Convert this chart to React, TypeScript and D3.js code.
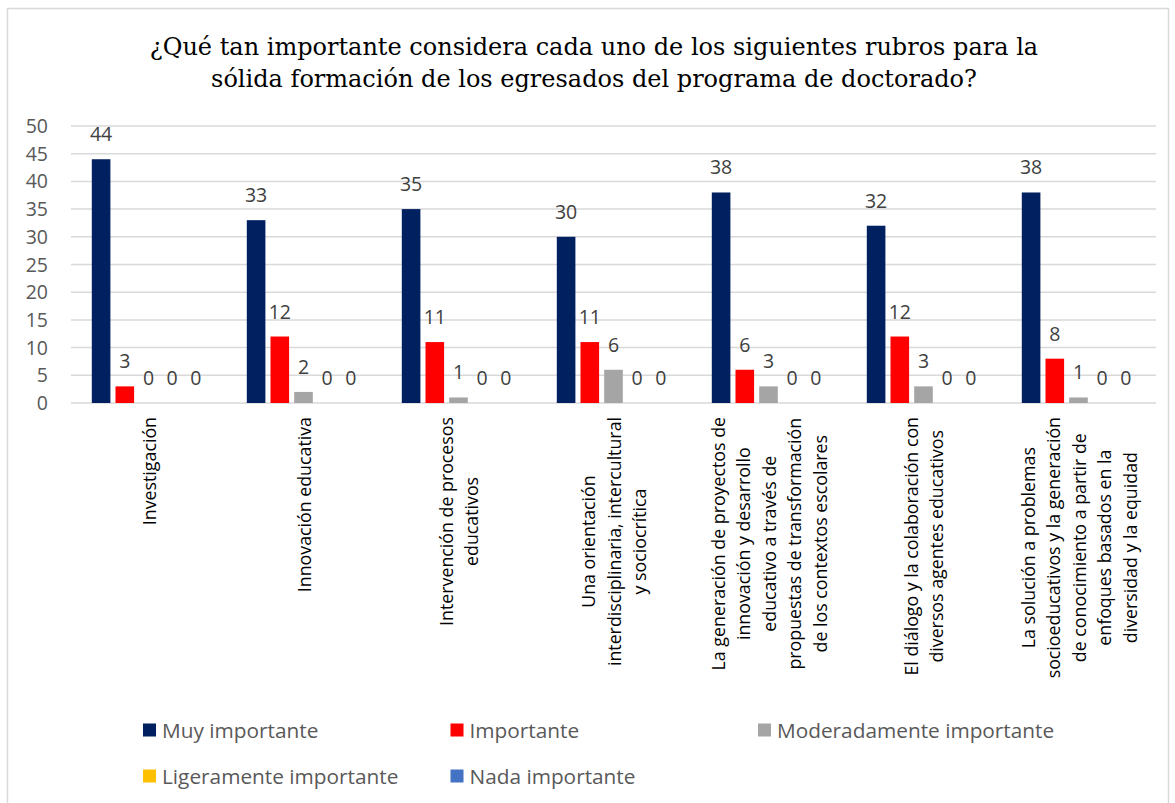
import React, { useEffect, useRef } from "react";
import * as d3 from "d3";

// chart data
const titleLines = [
  "¿Qué tan importante considera cada uno de los siguientes rubros para la",
  "sólida formación de los egresados del programa de doctorado?",
];

const categoryLines = [
  ["Investigación"],
  ["Innovación educativa"],
  ["Intervención de procesos", "educativos"],
  ["Una orientación", "interdisciplinaria, intercultural", "y sociocrítica"],
  [
    "La generación de proyectos de",
    "innovación y desarrollo",
    "educativo a través de",
    "propuestas de transformación",
    "de los contextos escolares",
  ],
  ["El diálogo y la colaboración con", "diversos agentes educativos"],
  [
    "La solución a problemas",
    "socioeducativos y la generación",
    "de conocimiento a partir de",
    "enfoques basados en la",
    "diversidad y la equidad",
  ],
];

const seriesNames = [
  "Muy importante",
  "Importante",
  "Moderadamente importante",
  "Ligeramente importante",
  "Nada importante",
];
const seriesColors = ["#002060", "#FF0000", "#A5A5A5", "#FFC000", "#4472C4"];

const muyImportante = [44, 33, 35, 30, 38, 32, 38];
const importante = [3, 12, 11, 11, 6, 12, 8];
const moderadamente = [0, 2, 1, 6, 3, 3, 1];
const ligeramente = [0, 0, 0, 0, 0, 0, 0];
const nada = [0, 0, 0, 0, 0, 0, 0];

const yTicks = [0, 5, 10, 15, 20, 25, 30, 35, 40, 45, 50];

const W = 1175;
const H = 803;
const SANS = "'Open Sans', sans-serif";

const App = () => {
  const svgRef = useRef<SVGSVGElement>(null);

  useEffect(() => {
    const svg = d3.select(svgRef.current);
    svg.selectAll("*").remove();

    const series = [muyImportante, importante, moderadamente, ligeramente, nada];
    const cats = categoryLines.map((l) => l.join(" "));

    const plot = { left: 71, right: 1156, top: 126, bottom: 403 };

    // outer border
    svg
      .append("rect")
      .attr("x", 7.5)
      .attr("y", 8.5)
      .attr("width", 1161)
      .attr("height", 810)
      .attr("fill", "#fff")
      .attr("stroke", "#D9D9D9")
      .attr("stroke-width", 1.5);

    // title
    svg
      .append("g")
      .selectAll("text")
      .data(titleLines)
      .join("text")
      .attr("x", 594)
      .attr("y", (d, i) => 55 + i * 32)
      .attr("text-anchor", "middle")
      .attr("font-family", "'DejaVu Serif', serif")
      .attr("font-size", 24)
      .attr("fill", "#000")
      .text((d) => d);

    const x0 = d3.scaleBand<string>().domain(cats).range([plot.left, plot.right]);
    const groupW = 113.4;
    const x1 = d3
      .scaleBand<number>()
      .domain(d3.range(series.length))
      .range([(x0.bandwidth() - groupW) / 2, (x0.bandwidth() + groupW) / 2])
      .paddingInner(0.215)
      .paddingOuter(0);
    const y = d3.scaleLinear().domain([0, 50]).range([plot.bottom, plot.top]);

    // gridlines
    svg
      .append("g")
      .selectAll("line")
      .data(yTicks)
      .join("line")
      .attr("x1", plot.left)
      .attr("x2", plot.right)
      .attr("y1", (d) => y(d))
      .attr("y2", (d) => y(d))
      .attr("stroke", "#D9D9D9")
      .attr("stroke-width", 1.5);

    // y tick labels
    svg
      .append("g")
      .selectAll("text")
      .data(yTicks)
      .join("text")
      .attr("x", 48)
      .attr("y", (d) => y(d))
      .attr("dy", "0.36em")
      .attr("text-anchor", "end")
      .attr("font-family", SANS)
      .attr("font-size", 19.5)
      .attr("fill", "#595959")
      .text((d) => d);

    // bars + value labels
    const groups = svg
      .append("g")
      .selectAll("g")
      .data(cats)
      .join("g")
      .attr("transform", (d) => `translate(${x0(d)},0)`);

    groups
      .selectAll("rect")
      .data((d, ci) => series.map((s, si) => ({ si, v: s[ci] })))
      .join("rect")
      .attr("x", (d) => x1(d.si)!)
      .attr("width", x1.bandwidth())
      .attr("y", (d) => y(d.v))
      .attr("height", (d) => y(0) - y(d.v))
      .attr("fill", (d) => seriesColors[d.si]);

    groups
      .selectAll("text")
      .data((d, ci) => series.map((s, si) => ({ si, v: s[ci] })))
      .join("text")
      .attr("x", (d) => x1(d.si)! + x1.bandwidth() / 2)
      .attr("y", (d) => y(d.v) - 18)
      .attr("text-anchor", "middle")
      .attr("font-family", SANS)
      .attr("font-size", 19.5)
      .attr("fill", "#404040")
      .text((d) => d.v);

    // category labels, rotated, lines centred, block hanging from the axis
    const lineH = 25.5;
    const labelTop = 417;
    categoryLines.forEach((lines, ci) => {
      const cx = x0(cats[ci])! + x0.bandwidth() / 2;
      const g = svg.append("g");
      const texts = g
        .selectAll("text")
        .data(lines)
        .join("text")
        .attr("text-anchor", "middle")
        .attr("dominant-baseline", "central")
        .attr("font-family", SANS)
        .attr("font-size", 17.8)
        .attr("fill", "#000")
        .text((d) => d);
      let maxLen = 0;
      texts.each(function () {
        maxLen = Math.max(maxLen, (this as SVGTextElement).getComputedTextLength());
      });
      texts.attr("transform", (d, i) => {
        const lx = cx + (i - (lines.length - 1) / 2) * lineH;
        return `translate(${lx},${labelTop + maxLen / 2}) rotate(-90)`;
      });
    });

    // legend
    const legend = svg
      .append("g")
      .selectAll("g")
      .data(seriesNames)
      .join("g")
      .attr("transform", (d, i) => `translate(${143 + (i % 3) * 307.5},${730 + Math.floor(i / 3) * 46})`);
    legend
      .append("rect")
      .attr("x", 0)
      .attr("y", -6.5)
      .attr("width", 13)
      .attr("height", 13)
      .attr("fill", (d, i) => seriesColors[i]);
    legend
      .append("text")
      .attr("x", 19)
      .attr("y", 0)
      .attr("dominant-baseline", "central")
      .attr("font-family", SANS)
      .attr("font-size", 20.8)
      .attr("fill", "#595959")
      .text((d) => d);
  }, []);

  return (
    <svg
      ref={svgRef}
      width={W}
      height={H}
      style={{ position: "absolute", left: 0, top: 0, background: "#fff" }}
    />
  );
};

export default App;
